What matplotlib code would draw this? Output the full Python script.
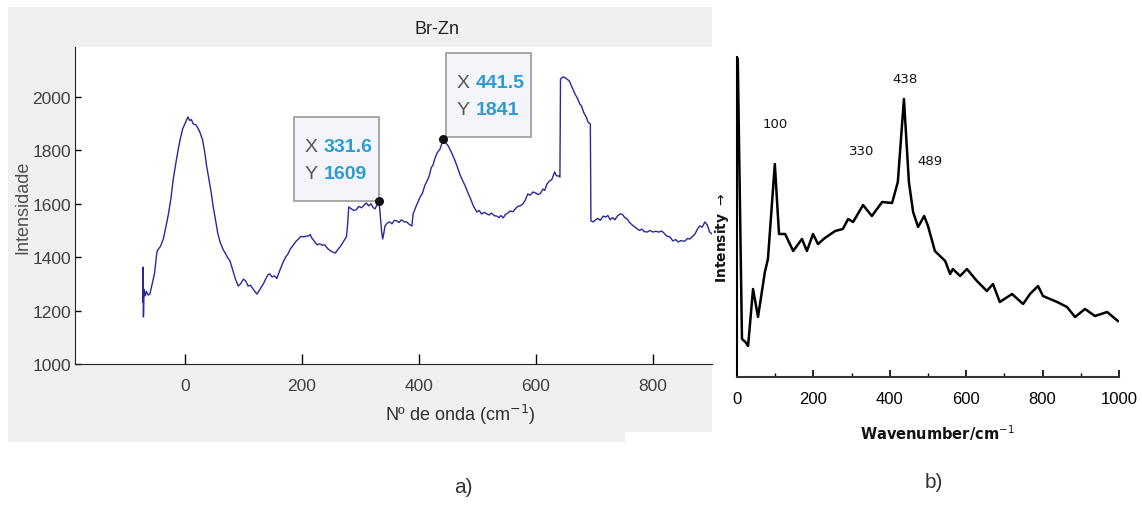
import matplotlib
matplotlib.use('Agg')
import matplotlib.pyplot as plt
from matplotlib.patches import Rectangle, Polygon
from matplotlib.transforms import IdentityTransform

# ---- panel a) : Br-Zn spectrum (read off the picture)
wn_a = [-72, -71.5, -71, -70, -68, -66, -63, -60, -56, -52, -48, -45, -42, -37, -32, -28, -24,
        -20, -15, -11, -8, -4, 0, 3, 5, 8, 11, 14, 19, 23, 26, 30, 34, 37, 41, 45, 48, 53,
        56, 60, 65, 70, 74, 77, 82, 86, 91, 95, 100, 104, 108, 112, 116, 120, 123, 127,
        131, 134, 138, 142, 145, 149, 153, 157, 162, 168, 172, 176, 180, 185, 190, 194,
        198, 203, 207, 211, 214, 217, 221, 226, 230, 235, 239, 244, 248, 253, 257, 261,
        265, 270, 274, 276, 278, 280, 285, 289, 293, 297, 302, 306, 310, 314, 318, 322,
        325, 328, 331.6, 333, 336, 338, 340, 342, 346, 350, 354, 358, 362, 366, 370, 375,
        379, 384, 388, 390, 395, 399, 402, 406, 410, 413, 417, 421, 424, 427, 431, 436,
        439, 441.5, 445, 450, 455, 460, 465, 470, 474, 479, 484, 488, 493, 499, 503, 507,
        512, 516, 520, 524, 529, 533, 537, 540, 544, 548, 552, 556, 561, 565, 569, 573,
        578, 582, 586, 590, 595, 600, 603, 607, 612, 615, 619, 623, 627, 632, 635, 639,
        641, 642, 646, 650, 653, 657, 660, 663, 667, 671, 675, 678, 682, 686, 689, 693,
        694, 698, 702, 706, 710, 715, 719, 723, 727, 731, 735, 740, 744, 748, 752, 756,
        760, 765, 769, 773, 777, 781, 785, 790, 795, 800, 805, 810, 815, 819, 823, 829,
        834, 839, 843, 848, 852, 855, 859, 863, 868, 872, 876, 880, 884, 889, 893, 897, 901]
int_a = [1232, 1363, 1176, 1280, 1255, 1272, 1258, 1262, 1300, 1340, 1420, 1432, 1440, 1468,
         1520, 1565, 1620, 1693, 1760, 1810, 1843, 1880, 1900, 1915, 1925, 1912, 1915, 1899,
         1895, 1880, 1865, 1840, 1790, 1742, 1690, 1640, 1592, 1530, 1490, 1457, 1430, 1410,
         1395, 1386, 1350, 1320, 1292, 1300, 1318, 1310, 1292, 1295, 1282, 1270, 1262, 1275,
         1290, 1300, 1318, 1335, 1337, 1326, 1330, 1320, 1350, 1382, 1400, 1412, 1430, 1445,
         1460, 1468, 1478, 1476, 1479, 1479, 1485, 1471, 1460, 1446, 1450, 1445, 1446, 1432,
         1425, 1419, 1415, 1428, 1438, 1455, 1470, 1476, 1520, 1588, 1580, 1575, 1578, 1590,
         1585, 1595, 1603, 1592, 1600, 1585, 1581, 1595, 1609, 1580, 1500, 1468, 1490, 1517,
         1528, 1532, 1525, 1538, 1536, 1530, 1540, 1532, 1532, 1522, 1517, 1562, 1590, 1610,
         1625, 1640, 1668, 1682, 1700, 1735, 1745, 1768, 1790, 1805, 1825, 1841, 1830, 1817,
         1795, 1770, 1742, 1710, 1690, 1667, 1640, 1620, 1592, 1569, 1575, 1562, 1568, 1562,
         1558, 1565, 1555, 1554, 1548, 1556, 1547, 1560, 1565, 1573, 1570, 1582, 1590, 1592,
         1600, 1615, 1637, 1632, 1644, 1640, 1635, 1637, 1655, 1650, 1674, 1685, 1690, 1719,
         1705, 1704, 1700, 2067, 2075, 2072, 2067, 2060, 2045, 2030, 2010, 1995, 1974, 1965,
         1940, 1925, 1906, 1899, 1536, 1532, 1540, 1545, 1538, 1554, 1550, 1556, 1540, 1548,
         1540, 1556, 1562, 1560, 1548, 1543, 1530, 1520, 1513, 1506, 1500, 1505, 1496, 1494,
         1500, 1494, 1497, 1494, 1498, 1490, 1480, 1476, 1461, 1466, 1457, 1462, 1460, 1461,
         1470, 1468, 1478, 1487, 1505, 1517, 1512, 1532, 1520, 1494, 1487]

tip_x = [331.6, 441.5]
tip_y = [1609, 1841]
tip_side = ['left', 'right']

# ---- panel b) : reference spectrum
wn_b = [2, 13, 22, 29, 42, 55, 73, 81, 99, 110, 126, 147, 170, 183, 199, 212, 230, 257, 277,
        291, 304, 330, 353, 380, 406, 421, 437, 450, 461, 474, 490, 500, 518, 545, 558, 565,
        584, 602, 628, 654, 670, 688, 720, 749, 767, 788, 801, 838, 864, 885, 911, 937, 969, 997]
int_b = [318, 38, 35, 31, 88, 60, 105, 118, 213, 143, 143, 126, 138, 126, 143, 133, 139, 146, 148,
         158, 155, 172, 161, 175, 174, 195, 278, 195, 165, 150, 161, 151, 126, 116, 103, 108,
         101, 108, 96, 86, 93, 75, 83, 73, 83, 91, 81, 75, 70, 60, 68, 61, 65, 56]
peak_labels = ['100', '330', '438', '489']
peak_x = [100, 327, 440, 505]
peak_y = [253, 226, 298, 216]

W, H = 1142, 506
def fx(px):
    return px / W
def fy(py):
    return 1 - py / H

fig = plt.figure(figsize=(W / 100, H / 100), dpi=100)
fig.patch.set_facecolor('white')

grey = Polygon([(fx(8), fy(8)), (fx(712), fy(8)), (fx(712), fy(433)), (fx(625), fy(433)),
                (fx(625), fy(443)), (fx(8), fy(443))], closed=True,
               transform=fig.transFigure, facecolor='#f0f0f0', edgecolor='none', zorder=0)
fig.add_artist(grey)

narrow = ['Liberation Sans Narrow', 'Liberation Sans', 'DejaVu Sans']

# panel a)
ax1 = fig.add_axes([fx(75), fy(365), fx(712) - fx(75), fy(48) - fy(365)])
ax1.set_facecolor('white')
ax1.plot(wn_a, int_a, color='#28289a', lw=1.0)
ax1.set_xlim(-188, 901)
ax1.set_ylim(1000, 2187)
ax1.set_xticks([0, 200, 400, 600, 800])
ax1.set_yticks([1000, 1200, 1400, 1600, 1800, 2000])
for s in ['top', 'right']:
    ax1.spines[s].set_visible(False)
for s in ['left', 'bottom']:
    ax1.spines[s].set_color('#222222')
ax1.tick_params(axis='x', direction='in', length=7, width=1, pad=10, labelcolor='#404040')
ax1.tick_params(axis='y', direction='in', length=4, width=1, pad=3, labelcolor='#404040')
for lab in ax1.get_xticklabels() + ax1.get_yticklabels():
    lab.set_family(narrow)
    lab.set_fontsize(12.5)

fig.text(fx(437), fy(30), 'Br-Zn', ha='center', va='center', fontsize=13,
         family=narrow, color='#222222')
fig.text(fx(23), fy(207), 'Intensidade', rotation=90, ha='center', va='center',
         fontsize=13, color='#505050', family=['Liberation Sans', 'DejaVu Sans'])
fig.text(fx(460), fy(415), 'Nº de onda (cm$^{-1}$)', ha='center', va='center',
         fontsize=13, color='#303030', family=['Liberation Sans', 'DejaVu Sans'])

# data tips
ax1.scatter(tip_x, tip_y, s=30, color='#111111', zorder=5)
fig.canvas.draw()
bw, bh = 85, 84
for x, y, side in zip(tip_x, tip_y, tip_side):
    px, py = ax1.transData.transform((x, y))
    x0 = px - bw if side == 'left' else px + 3
    y0 = py if side == 'left' else py + 2
    ax1.add_patch(Rectangle((x0, y0), bw, bh, transform=IdentityTransform(),
                            facecolor='#f3f5fa', edgecolor='#9a9a9a', lw=1.2, zorder=4,
                            clip_on=False))
    for k, (nm, val) in enumerate([('X', f'{x:g}'), ('Y', f'{y:g}')]):
        ty = y0 + bh - 29 - k * 27
        ax1.text(x0 + 17, ty, nm, transform=IdentityTransform(), ha='center', va='center',
                 fontsize=14, color='#555555', family=narrow, zorder=6)
        ax1.text(x0 + 30, ty, val, transform=IdentityTransform(), ha='left', va='center',
                 fontsize=14, color='#2e9ad2', fontweight='bold', family=narrow, zorder=6)

fig.text(fx(463), fy(488), 'a)', ha='center', va='center', fontsize=15,
         color='#333333', family=['Liberation Sans', 'DejaVu Sans'])

# panel b)
ax2 = fig.add_axes([fx(737), fy(378), fx(1119) - fx(737), fy(58) - fy(378)])
ax2.plot(wn_b, int_b, color='black', lw=1.8)
ax2.set_xlim(0, 1000)
ax2.set_ylim(0, 320)
ax2.set_xticks([0, 200, 400, 600, 800, 1000])
ax2.set_xticks(range(100, 1000, 200), minor=True)
ax2.set_yticks([])
for s in ['top', 'right']:
    ax2.spines[s].set_visible(False)
ax2.spines['left'].set_linewidth(1.5)
ax2.spines['bottom'].set_linewidth(1.5)
ax2.spines['bottom'].set_color('#333333')
ax2.tick_params(axis='x', which='major', direction='in', length=5, width=1.2, pad=10,
                labelsize=12)
ax2.tick_params(axis='x', which='minor', direction='in', length=3, width=1.0)
for lab in ax2.get_xticklabels():
    lab.set_family(['Liberation Sans', 'DejaVu Sans'])
for t, x, y in zip(peak_labels, peak_x, peak_y):
    ax2.text(x, y, t, ha='center', va='center', fontsize=9.5, color='#111111')

fig.text(fx(722), fy(238), 'Intensity $\\rightarrow$', rotation=90, ha='center', va='center',
         fontsize=10, fontweight='bold', color='#111111')
fig.text(fx(937), fy(433), 'Wavenumber/cm$^{-1}$', ha='center', va='center',
         fontsize=10.5, fontweight='bold', color='#111111')
fig.text(fx(934), fy(482), 'b)', ha='center', va='center', fontsize=15,
         color='#333333', family=['Liberation Sans', 'DejaVu Sans'])

fig.savefig('out.png', dpi=100)
